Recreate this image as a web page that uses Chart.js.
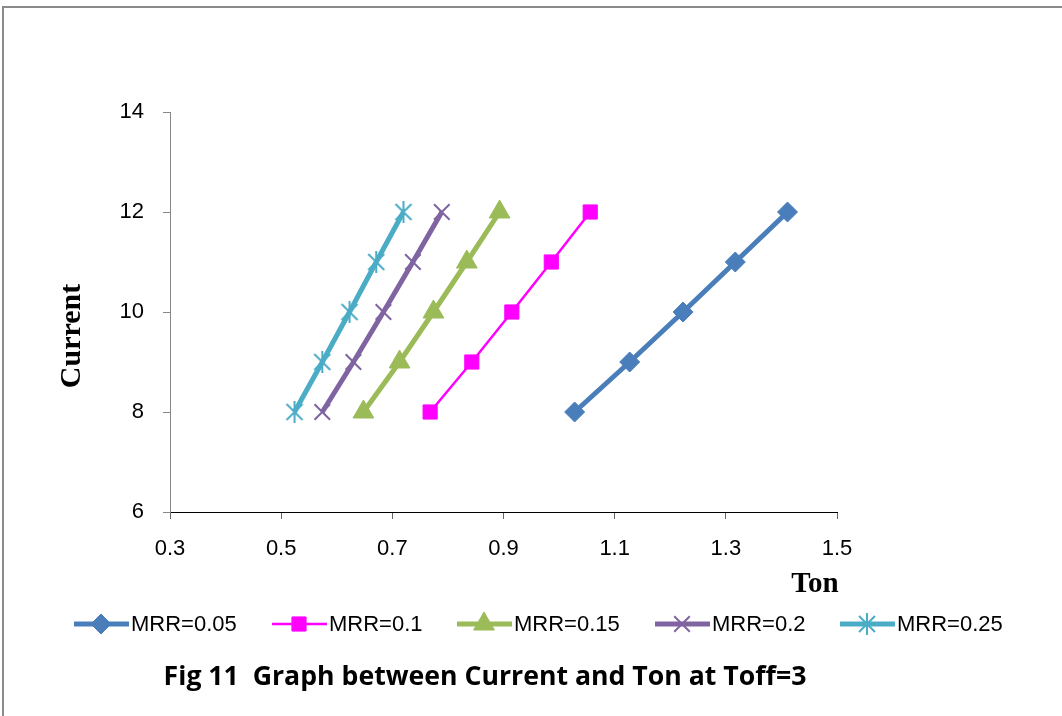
<!DOCTYPE html>
<html>
<head>
<meta charset="utf-8">
<script src="https://cdn.jsdelivr.net/npm/chart.js@4"></script>
<style>
  html, body { margin: 0; padding: 0; background: #fff; }
  canvas { display: block; }
</style>
</head>
<body>
<canvas id="chart" width="1062" height="716"></canvas>
<script>
// Current vs Ton at Toff=3, one line per MRR level
const current = [8, 9, 10, 11, 12];
const ton005 = [1.028, 1.127, 1.223, 1.317, 1.411];
const ton010 = [0.768, 0.843, 0.915, 0.986, 1.056];
const ton015 = [0.648, 0.713, 0.774, 0.834, 0.893];
const ton020 = [0.574, 0.630, 0.684, 0.737, 0.789];
const ton025 = [0.524, 0.574, 0.623, 0.671, 0.720];
const seriesNames = ['MRR=0.05', 'MRR=0.1', 'MRR=0.15', 'MRR=0.2', 'MRR=0.25'];
const xTicks = [0.3, 0.5, 0.7, 0.9, 1.1, 1.3, 1.5];
const yTicks = [6, 8, 10, 12, 14];

// asterisk marker: vertical stroke plus an X
function starMarker(color) {
    const c = document.createElement('canvas');
    c.width = 24; c.height = 24;
    const g = c.getContext('2d');
    g.strokeStyle = color;
    g.lineWidth = 2;
    g.beginPath();
    g.moveTo(12, 1); g.lineTo(12, 23);
    g.moveTo(4, 4); g.lineTo(20, 20);
    g.moveTo(20, 4); g.lineTo(4, 20);
    g.stroke();
    return c;
}

const styles = [
    { color: '#4A7EBB', width: 5, point: 'rectRot', radius: 10, pbw: 1 },
    { color: '#FF00FF', width: 2.5, point: 'rect', radius: 10, pbw: 1 },
    { color: '#9BBB59', width: 5, point: 'triangle', radius: 12, pbw: 1 },
    { color: '#8064A2', width: 5, point: 'crossRot', radius: 11, pbw: 2 },
    { color: '#4BACC6', width: 5, point: starMarker('#4BACC6'), radius: 10, pbw: 2 }
];

const tonSeries = [ton005, ton010, ton015, ton020, ton025];

const datasets = tonSeries.map((ton, i) => ({
    label: seriesNames[i],
    data: ton.map((t, k) => ({ x: t, y: current[k] })),
    showLine: true,
    borderColor: styles[i].color,
    borderWidth: styles[i].width,
    backgroundColor: styles[i].color,
    pointStyle: styles[i].point,
    pointRadius: styles[i].radius,
    pointBorderWidth: styles[i].pbw,
    pointBackgroundColor: styles[i].color,
    pointBorderColor: styles[i].color,
    tension: 0
}));

const legendX = [74, 272, 457, 655, 840];

// frame, axis titles, legend and caption
const decorations = {
    id: 'decorations',
    afterDraw(chart) {
        const ctx = chart.ctx;
        ctx.save();

        ctx.strokeStyle = '#8a8a8a';
        ctx.lineWidth = 2;
        ctx.beginPath();
        ctx.moveTo(3, 716);
        ctx.lineTo(3, 7);
        ctx.lineTo(1062, 7);
        ctx.stroke();

        ctx.fillStyle = '#000';
        ctx.font = 'bold 29px "Liberation Serif", "Times New Roman", serif';
        ctx.textAlign = 'center';
        ctx.textBaseline = 'middle';
        ctx.fillText('Ton', 815, 585);
        ctx.save();
        ctx.translate(72, 336);
        ctx.rotate(-Math.PI / 2);
        ctx.font = 'bold 30px "Liberation Serif", "Times New Roman", serif';
        ctx.fillText('Current', 0, 0);
        ctx.restore();

        // legend: line sample with marker, then name
        const ly = 624;
        ctx.font = '22px "Liberation Sans", Arial, sans-serif';
        ctx.textAlign = 'left';
        chart.data.datasets.forEach((ds, i) => {
            const st = styles[i];
            const lx = legendX[i];
            ctx.strokeStyle = st.color;
            ctx.lineWidth = st.width;
            ctx.beginPath();
            ctx.moveTo(lx, ly);
            ctx.lineTo(lx + 55, ly);
            ctx.stroke();
            ctx.fillStyle = st.color;
            ctx.strokeStyle = st.color;
            ctx.lineWidth = st.pbw;
            Chart.helpers.drawPoint(ctx, {
                pointStyle: st.point, radius: st.radius, rotation: 0, borderWidth: st.pbw
            }, lx + 27, ly);
            ctx.fillStyle = '#000';
            ctx.fillText(ds.label, lx + 57, ly + 1);
        });

        const caption = 'Fig 11  Graph between Current and Ton at Toff=3';
        ctx.font = 'bold 24px "Open Sans", sans-serif';
        const w = ctx.measureText(caption).width;
        ctx.font = 'bold ' + (24 * 643 / w).toFixed(2) + 'px "Open Sans", sans-serif';
        ctx.textAlign = 'center';
        ctx.fillText(caption, 485, 677);

        ctx.restore();
    }
};

new Chart(document.getElementById('chart'), {
    type: 'scatter',
    data: { datasets },
    options: {
        responsive: false,
        animation: false,
        events: [],
        layout: { padding: { left: 110, right: 225, top: 112, bottom: 144 } },
        plugins: { legend: { display: false }, tooltip: { enabled: false } },
        scales: {
            x: {
                type: 'linear',
                min: 0.3,
                max: 1.5,
                afterBuildTicks: s => { s.ticks = xTicks.map(v => ({ value: v })); },
                afterFit: s => { s.height = 60; },
                ticks: {
                    color: '#000',
                    padding: 17,
                    font: { family: '"Liberation Sans", Arial, sans-serif', size: 22 },
                    callback: v => v.toFixed(1)
                },
                grid: { drawOnChartArea: false, drawTicks: true, tickLength: 7, color: '#666' },
                border: { color: '#000', width: 1 }
            },
            y: {
                type: 'linear',
                min: 6,
                max: 14,
                afterBuildTicks: s => { s.ticks = yTicks.map(v => ({ value: v })); },
                afterFit: s => { s.width = 60; },
                ticks: {
                    color: '#000',
                    padding: 19,
                    font: { family: '"Liberation Sans", Arial, sans-serif', size: 22 }
                },
                grid: { drawOnChartArea: false, drawTicks: true, tickLength: 7, color: '#868686' },
                border: { color: '#868686', width: 1 }
            }
        }
    },
    plugins: [decorations]
});
</script>
</body>
</html>
